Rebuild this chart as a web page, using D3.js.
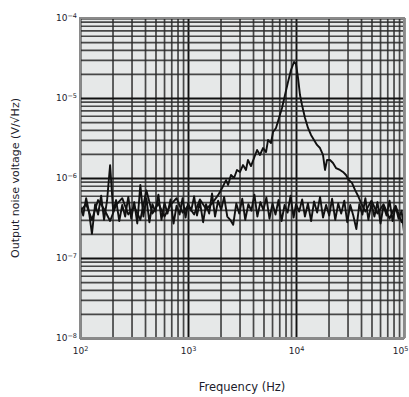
<!DOCTYPE html>
<html>
<head>
<meta charset="utf-8">
<script src="https://cdn.jsdelivr.net/npm/d3@7"></script>
<style>
  html, body { margin: 0; padding: 0; background: #fff; }
  svg { display: block; font-family: "DejaVu Sans", Verdana, sans-serif; }
</style>
</head>
<body>
<svg id="chart" width="409" height="397"></svg>
<script>
// Trace A: flat output noise (Hz, nV/√Hz)
const freqA = [
  100, 107, 114, 121, 129, 138, 147, 157, 167, 178, 190, 203, 216, 231, 246, 262, 280, 298,
  318, 339, 362, 386, 412, 439, 468, 499, 532, 568, 606, 646, 689, 735, 784, 836, 891, 950,
  1000, 1070, 1140, 1210, 1290, 1380, 1470, 1570, 1670, 1780, 1900, 2030, 2160, 2310, 2460, 2620, 2800, 2980,
  3180, 3390, 3620, 3860, 4120, 4390, 4680, 4990, 5320, 5680, 6060, 6460, 6890, 7350, 7840, 8360, 8910, 9500,
  10000, 10700, 11400, 12100, 12900, 13800, 14700, 15700, 16700, 17800, 19000, 20300, 21600, 23100, 24600, 26200, 28000, 29800,
  31800, 33900, 36200, 38600, 41200, 43900, 46800, 49900, 53200, 56800, 60600, 64600, 68900, 73500, 78400, 83600, 89100, 95000,
  100000
];
const noiseA = [
  450, 340, 560, 380, 200, 470, 350, 600, 300, 520, 1450, 380, 530, 290, 460, 330, 580, 310,
  500, 270, 820, 330, 560, 280, 470, 380, 620, 300, 490, 360, 540, 270, 450, 350, 560, 320,
  480, 390, 590, 340, 500, 280, 470, 360, 640, 330, 520, 400, 580, 330, 300, 260, 480, 360,
  550, 300, 470, 390, 620, 330, 500, 400, 570, 310, 480, 350, 530, 290, 460, 370, 600, 320,
  470, 380, 540, 330, 480, 290, 510, 370, 580, 320, 460, 340, 550, 300, 480, 360, 520, 280,
  460, 340, 230, 470, 350, 560, 300, 480, 330, 500, 270, 450, 340, 520, 290, 440, 310, 390,
  210
];

// Trace B: output noise with the resonance near 10 kHz (Hz, nV/√Hz)
const freqB = [
  100, 114, 129, 147, 167, 190, 216, 246, 280, 318, 362, 412, 468, 532, 606, 689, 784, 891,
  1000, 1140, 1290, 1470, 1670,
  1900, 2070, 2250, 2350, 2500, 2670, 2840, 3030, 3230, 3440, 3590, 3830, 4090, 4360, 4640, 4950,
  5280, 5510, 5870, 6130, 6530, 6960, 7420, 7910, 8430, 8990, 9580, 10000, 10440, 10890, 11370, 12120,
  12920, 13770, 14680, 15650, 16680, 17780, 18560, 19370, 20650, 22010, 23460, 25540, 27230, 29030, 30940, 32990,
  35170, 37490, 39970,
  43900, 49900, 56800, 64600, 73500, 83600, 95000, 100000
];
const noiseB = [
  380, 470, 300, 530, 410, 290, 460, 560, 350, 440, 300, 700, 360, 480, 330, 460, 560, 370,
  450, 350, 540, 410, 480,
  610, 750, 940, 820, 1090, 1000, 1260, 1190, 1450, 1260, 1680, 1410, 1780, 2240, 1940, 2370,
  2110, 2990, 2740, 3760, 4220, 5620, 7500, 10900, 15800, 22400, 28200, 26600, 17800, 10900, 8180, 5620,
  4220, 3450, 2990, 2590, 2370, 1940, 1260, 1680, 1680, 1540, 1330, 1260, 1190, 1090, 940, 870,
  710, 600, 490,
  380, 520, 360, 470, 310, 450, 280, 330
];

// Axis ticks: decades and their exponent labels
const xDecades = [100, 1000, 10000, 100000];
const xExponents = ["2", "3", "4", "5"];
const yDecades = [10, 100, 1000, 10000, 100000];        // nV/√Hz
const yExponents = ["\u22128", "\u22127", "\u22126", "\u22125", "\u22124"]; // V/√Hz

const xTitle = "Frequency (Hz)";
const yTitle = "Output noise voltage (V/\u221AHz)";

const svg = d3.select("#chart");
const mLeft = 80, mRight = 404, mTop = 18, mBottom = 338;

const x = d3.scaleLog().domain([100, 100000]).range([mLeft, mRight]);
const y = d3.scaleLog().domain([10, 100000]).range([mBottom, mTop]);

// plot background
svg.append("rect")
  .attr("x", mLeft).attr("y", mTop)
  .attr("width", mRight - mLeft).attr("height", mBottom - mTop)
  .attr("fill", "#e6e8e8");

// minor values 2..9 inside each decade
function minors(decades) {
  const out = [];
  decades.slice(0, -1).forEach(d => { for (let k = 2; k <= 9; k++) out.push(d * k); });
  return out;
}

const grid = svg.append("g");
// vertical grid
grid.append("g")
  .attr("transform", `translate(0,${mBottom})`)
  .call(d3.axisBottom(x).tickValues(minors(xDecades)).tickSize(-(mBottom - mTop)).tickFormat(""))
  .call(g => g.select(".domain").remove())
  .call(g => g.selectAll("line").attr("stroke", "#2a2a2a").attr("stroke-width", 1.7).attr("stroke-opacity", 0.85));
grid.append("g")
  .attr("transform", `translate(0,${mBottom})`)
  .call(d3.axisBottom(x).tickValues(xDecades).tickSize(-(mBottom - mTop)).tickFormat(""))
  .call(g => g.select(".domain").remove())
  .call(g => g.selectAll("line").attr("stroke", "#111").attr("stroke-width", 1.9));
// horizontal grid
grid.append("g")
  .attr("transform", `translate(${mLeft},0)`)
  .call(d3.axisLeft(y).tickValues(minors(yDecades)).tickSize(-(mRight - mLeft)).tickFormat(""))
  .call(g => g.select(".domain").remove())
  .call(g => g.selectAll("line").attr("stroke", "#2a2a2a").attr("stroke-width", 1.7).attr("stroke-opacity", 0.85));
grid.append("g")
  .attr("transform", `translate(${mLeft},0)`)
  .call(d3.axisLeft(y).tickValues(yDecades).tickSize(-(mRight - mLeft)).tickFormat(""))
  .call(g => g.select(".domain").remove())
  .call(g => g.selectAll("line").attr("stroke", "#111").attr("stroke-width", 1.9));

// traces
const line = d3.line().x(d => x(d[0])).y(d => y(d[1]));
const traceA = freqA.map((f, i) => [f, noiseA[i]]);
const traceB = freqB.map((f, i) => [f, noiseB[i]]);
svg.append("g")
  .selectAll("path")
  .data([traceA, traceB])
  .join("path")
  .attr("d", line)
  .attr("fill", "none")
  .attr("stroke", "#111")
  .attr("stroke-width", 1.9)
  .attr("stroke-linejoin", "round");

// frame
svg.append("rect")
  .attr("x", mLeft).attr("y", mTop)
  .attr("width", mRight - mLeft).attr("height", mBottom - mTop)
  .attr("fill", "none").attr("stroke", "#8a8a8a").attr("stroke-width", 2);

// tick labels as 10 with superscript exponent
function powerLabels(sel, exps) {
  sel.selectAll(".tick text").each(function(d, i) {
    const t = d3.select(this).text("");
    t.append("tspan").text("10");
    t.append("tspan").attr("dy", "-0.45em").attr("font-size", "6.5px").text(exps[i]);
  });
}

svg.append("g")
  .attr("transform", `translate(0,${mBottom})`)
  .call(d3.axisBottom(x).tickValues(xDecades).tickSize(0).tickPadding(10).tickFormat(""))
  .call(g => g.select(".domain").remove())
  .call(g => g.selectAll("text").attr("font-size", "9px").attr("fill", "#1c1c2c")
    .attr("font-family", "'DejaVu Sans', sans-serif"))
  .call(g => powerLabels(g, xExponents))
  // keep the last label inside the page edge
  .call(g => g.selectAll(".tick text").filter((d, i, n) => i === n.length - 1).attr("dx", -4));

svg.append("g")
  .attr("transform", `translate(${mLeft},0)`)
  .call(d3.axisLeft(y).tickValues(yDecades).tickSize(0).tickPadding(3).tickFormat(""))
  .call(g => g.select(".domain").remove())
  .call(g => g.selectAll("text").attr("font-size", "9px").attr("fill", "#1c1c2c")
    .attr("font-family", "'DejaVu Sans', sans-serif"))
  .call(g => powerLabels(g, yExponents));

// axis titles
svg.append("text")
  .attr("x", (mLeft + mRight) / 2).attr("y", 391)
  .attr("text-anchor", "middle")
  .attr("font-size", "11.5px").attr("fill", "#1c1c2c")
  .text(xTitle);

svg.append("text")
  .attr("transform", `translate(19,${(mTop + mBottom) / 2}) rotate(-90)`)
  .attr("text-anchor", "middle")
  .attr("font-size", "11px").attr("fill", "#1c1c2c")
  .text(yTitle);
</script>
</body>
</html>
